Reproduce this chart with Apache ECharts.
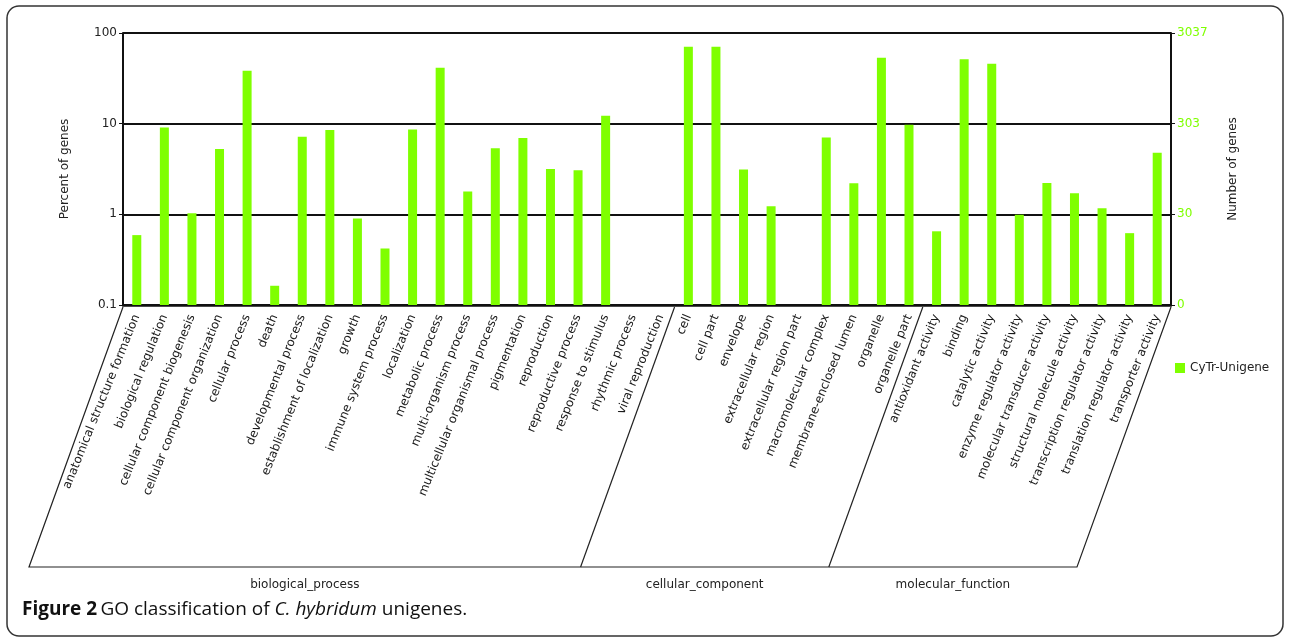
<!DOCTYPE html>
<html>
<head>
<meta charset="utf-8">
<script src="https://cdn.jsdelivr.net/npm/echarts@6/dist/echarts.min.js"></script>
<style>
html, body { margin: 0; padding: 0; background: #fff; }
#go-chart { width: 1289px; height: 638px; }
</style>
</head>
<body>
<div id="go-chart"></div>
<script>
var categories = [
	"anatomical structure formation", "biological regulation", "cellular component biogenesis",
	"cellular component organization", "cellular process", "death", "developmental process",
	"establishment of localization", "growth", "immune system process", "localization",
	"metabolic process", "multi-organism process", "multicellular organismal process",
	"pigmentation", "reproduction", "reproductive process", "response to stimulus",
	"rhythmic process", "viral reproduction",
	"cell", "cell part", "envelope", "extracellular region", "extracellular region part",
	"macromolecular complex", "membrane-enclosed lumen", "organelle", "organelle part",
	"antioxidant activity", "binding", "catalytic activity", "enzyme regulator activity",
	"molecular transducer activity", "structural molecule activity",
	"transcription regulator activity", "translation regulator activity", "transporter activity"
];
// percent of genes (log scale, below 0.1 -> not drawn)
var percents = [
	0.59, 9.1, 1.03, 5.25, 38.3, 0.163, 7.17, 8.5, 0.9, 0.42, 8.65, 41.3, 1.79, 5.34,
	6.94, 3.16, 3.06, 12.2, null, null,
	70.4, 70.4, 3.13, 1.23, null, 7.06, 2.2, 53.3, 9.73,
	0.65, 51.5, 45.7, 0.99, 2.21, 1.71, 1.17, 0.62, 4.78
];
var groupNames = ["biological_process", "cellular_component", "molecular_function"];
var groupSizes = [20, 9, 9];
var leftTicks = ["0.1", "1", "10", "100"];
var rightTicks = ["0", "30", "303", "3037"];

var fontFam = "DejaVu Sans";
var green = "#7fff00";

// bars are drawn in decades above 0.1
function decades(v) {
	return v == null ? null : Math.log10(v / 0.1);
}

var e = echarts.init(document.getElementById("go-chart"));
var opt = {
	animation : false,
	textStyle : { fontFamily : fontFam },
	grid : { left : 123, right : 118, top : 33, bottom : 333 },
	legend : {
		data : [ "CyTr-Unigene" ],
		left : 1170,
		top : 357,
		icon : "rect",
		itemWidth : 10,
		itemHeight : 10,
		itemGap : 5,
		textStyle : { fontSize : 12, color : "#222", fontFamily : fontFam }
	},
	xAxis : [ {
		type : "category",
		data : categories,
		axisLine : { lineStyle : { color : "#111", width : 2.5 } },
		axisTick : { show : false },
		axisLabel : {
			interval : 0,
			rotate : 68,
			margin : 10,
			fontSize : 12,
			color : "#1a1a1a",
			fontFamily : fontFam
		}
	} ],
	yAxis : [ {
		type : "value",
		min : 0,
		max : 3,
		interval : 1,
		name : "Percent of genes",
		nameLocation : "middle",
		nameGap : 52,
		nameTextStyle : { fontSize : 12, color : "#222" },
		axisLine : { show : true, lineStyle : { color : "#111", width : 2 } },
		axisTick : { show : true, length : 4, lineStyle : { color : "#111" } },
		splitLine : { lineStyle : { color : "#111", width : 2 } },
		axisLabel : {
			fontSize : 12,
			color : "#222",
			margin : 6,
			formatter : function(v) { return leftTicks[v]; }
		}
	}, {
		type : "value",
		min : 0,
		max : 3,
		interval : 1,
		position : "right",
		name : "Number of genes",
		nameLocation : "middle",
		nameGap : 56,
		nameRotate : 90,
		nameTextStyle : { fontSize : 12, color : "#222" },
		axisLine : { show : true, lineStyle : { color : "#111", width : 2 } },
		axisTick : { show : true, length : 4, lineStyle : { color : "#111" } },
		splitLine : { show : false },
		axisLabel : {
			fontSize : 12,
			color : green,
			margin : 6,
			formatter : function(v) { return rightTicks[v]; }
		}
	} ],
	series : [ {
		name : "CyTr-Unigene",
		type : "bar",
		barWidth : 9,
		itemStyle : { color : green },
		data : percents.map(decades)
	} ]
};
e.setOption(opt);

// group brackets under the rotated labels
var xs = categories.map(function(c, i) { return e.convertToPixel({ xAxisIndex : 0 }, i); });
var band = xs[1] - xs[0];
var yTop = e.convertToPixel({ yAxisIndex : 0 }, 0) + 2;
var yBot = 567, slant = 94;
var bounds = [ xs[0] - band / 2 ];
var idx = 0;
groupSizes.forEach(function(n) {
	idx += n;
	bounds.push(idx < categories.length ? xs[idx] - band / 2 : xs[idx - 1] + band / 2);
});
var lineStyle = { stroke : "#222", lineWidth : 1.2, fill : null };
var g = [];
g.push({
	type : "polyline",
	shape : { points : [ [ bounds[0], yTop ], [ bounds[0] - slant, yBot ],
		[ bounds[3] - slant, yBot ], [ bounds[3], yTop ] ] },
	style : lineStyle
});
for (var k = 1; k < bounds.length - 1; k++) {
	g.push({
		type : "line",
		shape : { x1 : bounds[k], y1 : yTop, x2 : bounds[k] - slant, y2 : yBot },
		style : lineStyle
	});
}
groupNames.forEach(function(name, i) {
	g.push({
		type : "text",
		x : (bounds[i] + bounds[i + 1]) / 2 - slant,
		y : yBot + 18,
		style : { text : name, fontSize : 12, fill : "#222", fontFamily : fontFam,
			align : "center", verticalAlign : "middle" }
	});
});
// frame and caption
g.push({
	type : "rect",
	shape : { x : 7, y : 6, width : 1276, height : 630, r : 12 },
	style : { stroke : "#333", lineWidth : 1.5, fill : null }
});
g.push({
	type : "text",
	x : 22,
	y : 610,
	style : {
		text : "{b|Figure 2} {n|GO classification of }{i|C. hybridum}{n| unigenes.}",
		verticalAlign : "middle",
		rich : {
			b : { fontSize : 19, fontWeight : "bold", fontFamily : "Open Sans", fill : "#111" },
			n : { fontSize : 19, fontFamily : "Open Sans", fill : "#111" },
			i : { fontSize : 19, fontStyle : "italic", fontFamily : "Open Sans", fill : "#111" }
		}
	}
});
e.setOption({ graphic : g });
</script>
</body>
</html>
